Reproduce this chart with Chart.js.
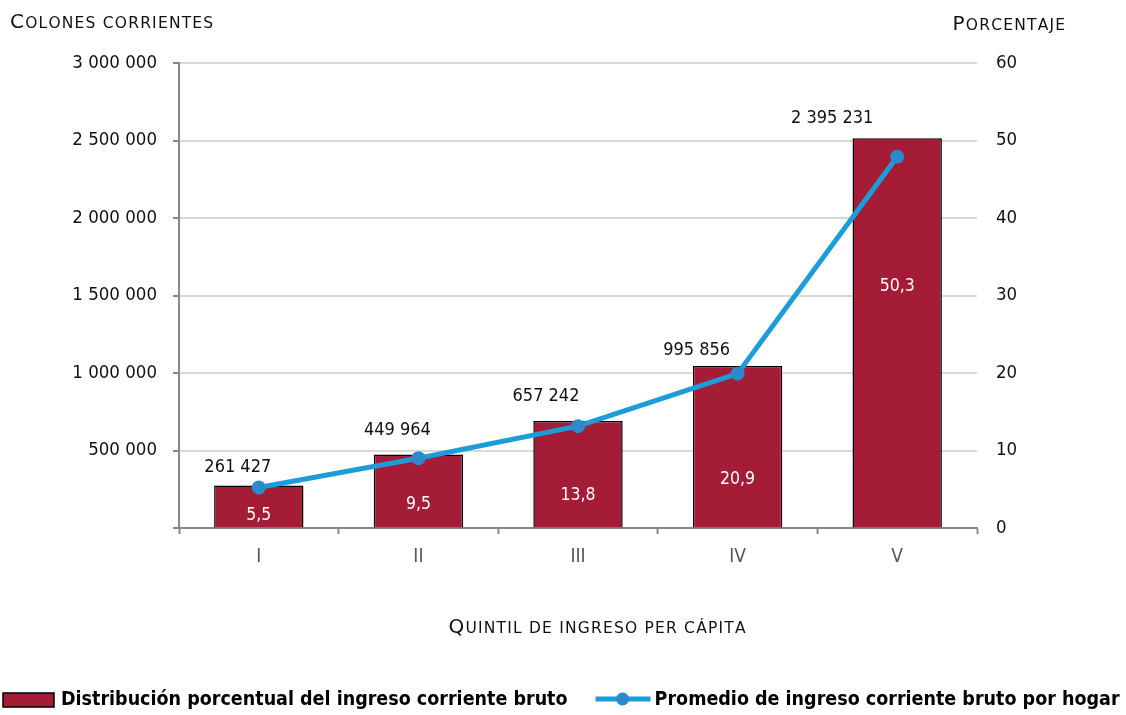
<!DOCTYPE html>
<html>
<head>
<meta charset="utf-8">
<script src="https://cdn.jsdelivr.net/npm/chart.js@4.4.1/dist/chart.umd.min.js"></script>
<style>
  html, body { margin: 0; padding: 0; background: #fff; }
  #wrap { width: 1126px; height: 715px; }
</style>
</head>
<body>
<div id="wrap"><canvas id="chart1" width="1126" height="715"></canvas></div>
<script>
"use strict";

var quintiles = ['I', 'II', 'III', 'IV', 'V'];
var sharePct = [5.5, 9.5, 13.8, 20.9, 50.3];
var avgIncome = [261427, 449964, 657242, 995856, 2395231];

var colonTicks = [0, 500000, 1000000, 1500000, 2000000, 2500000, 3000000];
var pctTicks = [0, 10, 20, 30, 40, 50, 60];

var NUM_FONT = "'DejaVu Sans Condensed', 'Liberation Sans Narrow', sans-serif";
var TITLE_FONT = "'DejaVu Sans', sans-serif";
var BAR_COLOR = '#A51C36';
var LINE_COLOR = '#1C9DD9';
var POINT_COLOR = '#2A8ACB';

var spaced = function (n) {
  return String(n).replace(/\B(?=(\d{3})+(?!\d))/g, ' ');
};
var comma = function (v) {
  return v.toFixed(1).replace('.', ',');
};

// placement of the hand-set labels, relative to the mark
var barLabelFrac = [0.28, 0.31, 0.30, 0.30, 0.62];
var lineLabelDx = [-21, -21, -32, -41, -65];
var lineLabelDy = [-20, -28, -30, -23, -38];

// draws text in small caps by hand, align: 'left' | 'right' | 'center'
var smallCaps = function (ctx, text, x, y, align) {
  var big = '20px ' + TITLE_FONT, small = '15.5px ' + TITLE_FONT, gap = 1.2;
  var parts = text.split('').map(function (c) {
    var up = c.toUpperCase();
    var font = (c === up && c !== ' ') ? big : small;
    ctx.font = font;
    return { ch: up, font: font, w: ctx.measureText(up).width };
  });
  var total = parts.reduce(function (s, p) { return s + p.w + gap; }, -gap);
  var cx = align === 'right' ? x - total : align === 'center' ? x - total / 2 : x;
  ctx.textAlign = 'left';
  ctx.textBaseline = 'alphabetic';
  parts.forEach(function (p) {
    ctx.font = p.font;
    ctx.fillText(p.ch, cx, y);
    cx += p.w + gap;
  });
};

var extras = {
  id: 'extras',
  afterDatasetsDraw: function (chart) {
    var ctx = chart.ctx;
    var barMeta = chart.getDatasetMeta(1);
    var lineMeta = chart.getDatasetMeta(0);
    ctx.save();
    ctx.textAlign = 'center';
    ctx.textBaseline = 'middle';
    ctx.font = '17.5px ' + NUM_FONT;
    ctx.fillStyle = '#fff';
    barMeta.data.forEach(function (bar, i) {
      var y = bar.base - barLabelFrac[i] * (bar.base - bar.y);
      ctx.fillText(comma(sharePct[i]), bar.x, y);
    });
    ctx.font = '18px ' + NUM_FONT;
    ctx.fillStyle = '#111';
    lineMeta.data.forEach(function (pt, i) {
      ctx.fillText(spaced(avgIncome[i]), pt.x + lineLabelDx[i], pt.y + lineLabelDy[i]);
    });
    ctx.restore();
  },
  afterDraw: function (chart) {
    var ctx = chart.ctx;
    ctx.save();
    // axis titles
    ctx.fillStyle = '#111';
    smallCaps(ctx, 'Colones corrientes', 10, 28, 'left');
    smallCaps(ctx, 'Porcentaje', 1065, 30, 'right');
    smallCaps(ctx, 'Quintil de ingreso per cápita', 597, 633, 'center');

    // legend
    ctx.font = 'bold 19.5px ' + NUM_FONT;
    ctx.textAlign = 'left';
    ctx.textBaseline = 'middle';
    var x = 3, y = 700;
    ctx.fillStyle = BAR_COLOR;
    ctx.fillRect(x, y - 7, 51, 14);
    ctx.strokeStyle = '#000';
    ctx.lineWidth = 1.5;
    ctx.strokeRect(x, y - 7, 51, 14);
    x += 58;
    ctx.fillStyle = '#000';
    ctx.fillText(chart.data.datasets[1].label, x, y);
    x += ctx.measureText(chart.data.datasets[1].label).width + 28;
    ctx.strokeStyle = LINE_COLOR;
    ctx.lineWidth = 5;
    ctx.beginPath();
    ctx.moveTo(x, y - 1);
    ctx.lineTo(x + 55, y - 1);
    ctx.stroke();
    ctx.fillStyle = POINT_COLOR;
    ctx.beginPath();
    ctx.arc(x + 27, y - 1, 6.5, 0, Math.PI * 2);
    ctx.fill();
    x += 59;
    ctx.fillStyle = '#000';
    ctx.fillText(chart.data.datasets[0].label, x, y);
    ctx.restore();
  }
};

var ctx = document.getElementById('chart1').getContext('2d');
new Chart(ctx, {
  data: {
    labels: quintiles,
    datasets: [{
      type: 'line',
      label: 'Promedio de ingreso corriente bruto por hogar',
      data: avgIncome,
      yAxisID: 'y',
      order: 0,
      borderColor: LINE_COLOR,
      borderWidth: 5,
      pointRadius: 7,
      pointBackgroundColor: POINT_COLOR,
      pointBorderWidth: 0,
      tension: 0
    }, {
      type: 'bar',
      label: 'Distribución porcentual del ingreso corriente bruto',
      data: sharePct,
      yAxisID: 'y1',
      order: 1,
      backgroundColor: BAR_COLOR,
      borderColor: '#000',
      borderWidth: 1.5,
      barPercentage: 0.56,
      categoryPercentage: 1
    }]
  },
  plugins: [extras],
  options: {
    responsive: false,
    devicePixelRatio: 1,
    animation: false,
    layout: {
      padding: { left: 0, right: 0, top: 63, bottom: 147 }
    },
    plugins: {
      legend: { display: false },
      tooltip: { enabled: false }
    },
    scales: {
      x: {
        grid: {
          offset: true,
          drawOnChartArea: false,
          tickLength: 6,
          tickWidth: 2,
          tickColor: '#888'
        },
        border: { color: '#888', width: 2 },
        ticks: {
          color: '#555',
          padding: 12,
          font: { family: NUM_FONT, size: 19 }
        },
        afterFit: function (scale) { scale.height = 40; }
      },
      y: {
        position: 'left',
        min: 0,
        max: 3000000,
        afterBuildTicks: function (scale) {
          scale.ticks = colonTicks.map(function (v) { return { value: v }; });
        },
        grid: {
          color: '#d9d9d9',
          lineWidth: 2,
          tickLength: 6,
          tickColor: '#888',
          tickWidth: 2
        },
        border: { color: '#888', width: 2 },
        ticks: {
          color: '#111',
          padding: 16,
          font: { family: NUM_FONT, size: 18.5 },
          callback: function (v) { return v === 0 ? '' : spaced(v); }
        },
        afterFit: function (scale) { scale.width = 179; }
      },
      y1: {
        position: 'right',
        min: 0,
        max: 60,
        afterBuildTicks: function (scale) {
          scale.ticks = pctTicks.map(function (v) { return { value: v }; });
        },
        grid: { drawOnChartArea: false, drawTicks: false },
        border: { display: false },
        ticks: {
          color: '#111',
          padding: 19,
          font: { family: NUM_FONT, size: 18.5 }
        },
        afterFit: function (scale) { scale.width = 149; }
      }
    }
  }
});
</script>
</body>
</html>
